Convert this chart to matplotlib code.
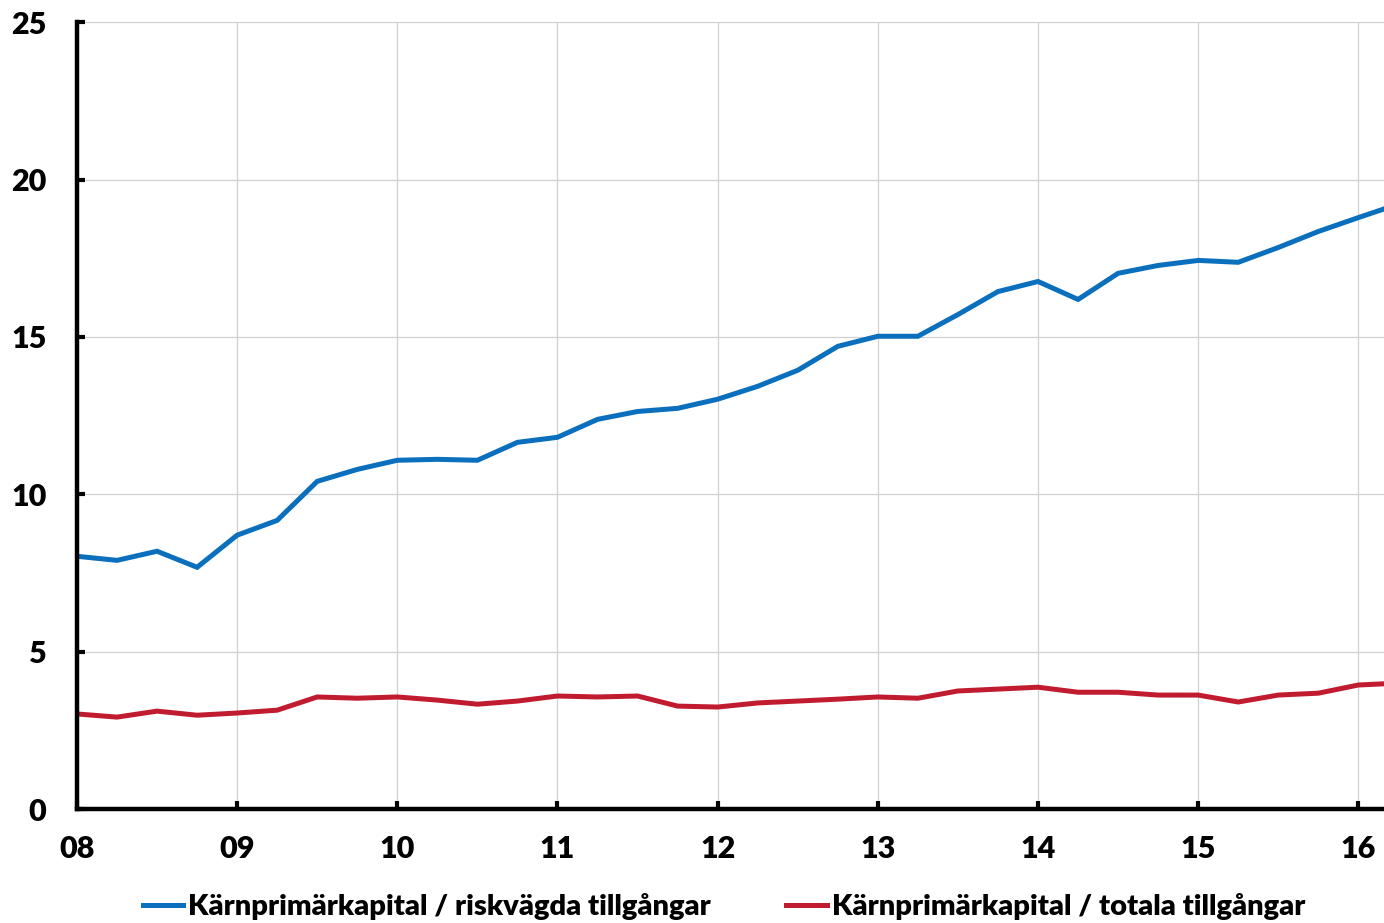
import numpy as np
import matplotlib.pyplot as plt
from matplotlib.lines import Line2D

#---------------------------------------------------------------------#
# kvartal, 2008K1 .. 2016K2 (år uttryckt som 08, 09, ...)
kvartal = [8 + i * 0.25 for i in range(34)]

risk_vagda = [8.03, 7.90, 8.19, 7.68, 8.70, 9.17, 10.41, 10.79, 11.08, 11.11,
              11.08, 11.65, 11.81, 12.38, 12.63, 12.73, 13.02, 13.43, 13.94, 14.70,
              15.02, 15.02, 15.71, 16.44, 16.76, 16.19, 17.02, 17.27, 17.43, 17.37,
              17.84, 18.35, 18.79, 19.22]

totala = [3.02, 2.92, 3.11, 2.98, 3.05, 3.14, 3.56, 3.52, 3.56, 3.46,
          3.33, 3.43, 3.59, 3.56, 3.59, 3.27, 3.24, 3.37, 3.43, 3.49,
          3.56, 3.52, 3.75, 3.81, 3.87, 3.71, 3.71, 3.62, 3.62, 3.40,
          3.62, 3.68, 3.94, 4.00]

x_ticks = [8, 9, 10, 11, 12, 13, 14, 15, 16]
x_labels = ["08", "09", "10", "11", "12", "13", "14", "15", "16"]
y_ticks = [0, 5, 10, 15, 20, 25]

labels = ["Kärnprimärkapital / riskvägda tillgångar",
          "Kärnprimärkapital / totala tillgångar"]
colors = ["#0a6fbd", "#c11b30"]
#---------------------------------------------------------------------#

plt.rcParams['font.family'] = ['Lato', 'DejaVu Sans']
plt.rcParams['font.weight'] = 'heavy'

fig = plt.figure(figsize=(13.84, 9.23), dpi=100)
ax = fig.add_axes([0.0556, 0.1235, 0.9444, 0.8525])

ax.plot(kvartal, risk_vagda, color=colors[0], lw=3.6, solid_joinstyle='miter')
ax.plot(kvartal, totala, color=colors[1], lw=3.6, solid_joinstyle='miter')

ax.set_xlim(8, 16.16)
ax.set_ylim(0, 25)
ax.set_xticks(x_ticks)
ax.set_xticklabels(x_labels)
ax.set_yticks(y_ticks)

ax.grid(True, color="#d0d0d0", lw=0.9)
ax.set_axisbelow(True)

for s in ["top", "right"]:
    ax.spines[s].set_visible(False)
for s in ["left", "bottom"]:
    ax.spines[s].set_linewidth(3.2)

ax.tick_params(direction="in", length=6, width=3, labelsize=22)
ax.tick_params(axis="x", pad=19)
ax.tick_params(axis="y", pad=22)
for t in ax.get_xticklabels() + ax.get_yticklabels():
    t.set_fontweight("heavy")

# förklaring
handles = [Line2D([0], [0], color=c, lw=3.6) for c in colors]
fig.legend(handles, labels, loc="center", bbox_to_anchor=(0.523, 0.018), ncol=2,
           frameon=False, handlelength=1.4, handletextpad=0.15,
           columnspacing=2.6, prop={"weight": "heavy", "size": 21})

fig.savefig("out.png", dpi=100)
